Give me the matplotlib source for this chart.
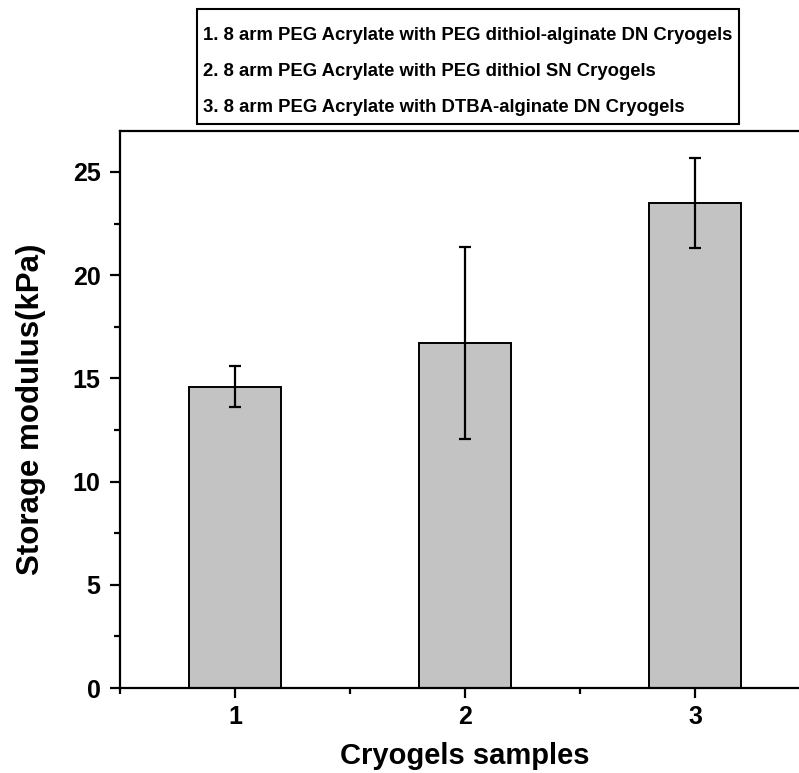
import matplotlib
matplotlib.use("Agg")
import matplotlib.pyplot as plt
import matplotlib.ticker as ticker
from matplotlib.patches import Rectangle

# data
samples = [1, 2, 3]
modulus = [14.6, 16.7, 23.5]
modulus_err = [1.0, 4.65, 2.2]
legend_lines = [
    "1. 8 arm PEG Acrylate with PEG dithiol-alginate DN Cryogels",
    "2. 8 arm PEG Acrylate with PEG dithiol SN Cryogels",
    "3. 8 arm PEG Acrylate with DTBA-alginate DN Cryogels",
]

plt.rcParams["font.family"] = ["Liberation Sans", "DejaVu Sans"]
plt.rcParams["font.weight"] = "bold"

W, H = 799, 773
fig = plt.figure(figsize=(W / 100, H / 100), dpi=100)
# axes runs past the right edge of the figure, as in the cropped original
ax = fig.add_axes([120 / W, 85 / H, 690 / W, 557.3 / H])

ax.bar(samples, modulus, width=0.4, color="#c3c3c3", edgecolor="black",
       linewidth=1.4, zorder=2)
ax.errorbar(samples, modulus, yerr=modulus_err, fmt="none", ecolor="black",
            elinewidth=1.6, capsize=4.5, capthick=1.6, zorder=3)

ax.set_xlim(0.5, 3.5)
ax.set_ylim(0, 27)
ax.xaxis.set_major_locator(ticker.FixedLocator(samples))
ax.xaxis.set_minor_locator(ticker.MultipleLocator(0.5))
ax.yaxis.set_major_locator(ticker.MultipleLocator(5))
ax.yaxis.set_minor_locator(ticker.MultipleLocator(2.5))

for s in ["left", "bottom", "top", "right"]:
    ax.spines[s].set_linewidth(1.6)

ax.tick_params(which="major", direction="out", length=7, width=1.6,
               labelsize=18, top=False, right=False)
ax.tick_params(axis="x", which="major", pad=5)
ax.tick_params(axis="y", which="major", pad=7)
ax.tick_params(which="minor", direction="out", length=4, width=1.6,
               top=False, right=False)
for lab in ax.get_xticklabels() + ax.get_yticklabels():
    lab.set_fontweight("bold")

ax.set_xlabel("Cryogels samples", fontsize=21, fontweight="bold")
ax.set_ylabel("Storage modulus(kPa)", fontsize=22.5, fontweight="bold")
ax.xaxis.set_label_coords(0.5, -0.097)
ax.yaxis.set_label_coords(-0.107, 0.5)

# legend box above the axes
box_l, box_r, box_t, box_b = 197, 739, 9, 124
fig.patches.append(Rectangle((box_l / W, 1 - box_b / H), (box_r - box_l) / W,
                             (box_b - box_t) / H, transform=fig.transFigure,
                             facecolor="white", edgecolor="black",
                             linewidth=1.5, zorder=5))
line_y = [35, 72, 107]
for txt, yy in zip(legend_lines, line_y):
    fig.text(203 / W, 1 - yy / H, txt, ha="left", va="center", fontsize=13.3,
             fontweight="bold", zorder=6)

fig.savefig("out.png", dpi=100)
